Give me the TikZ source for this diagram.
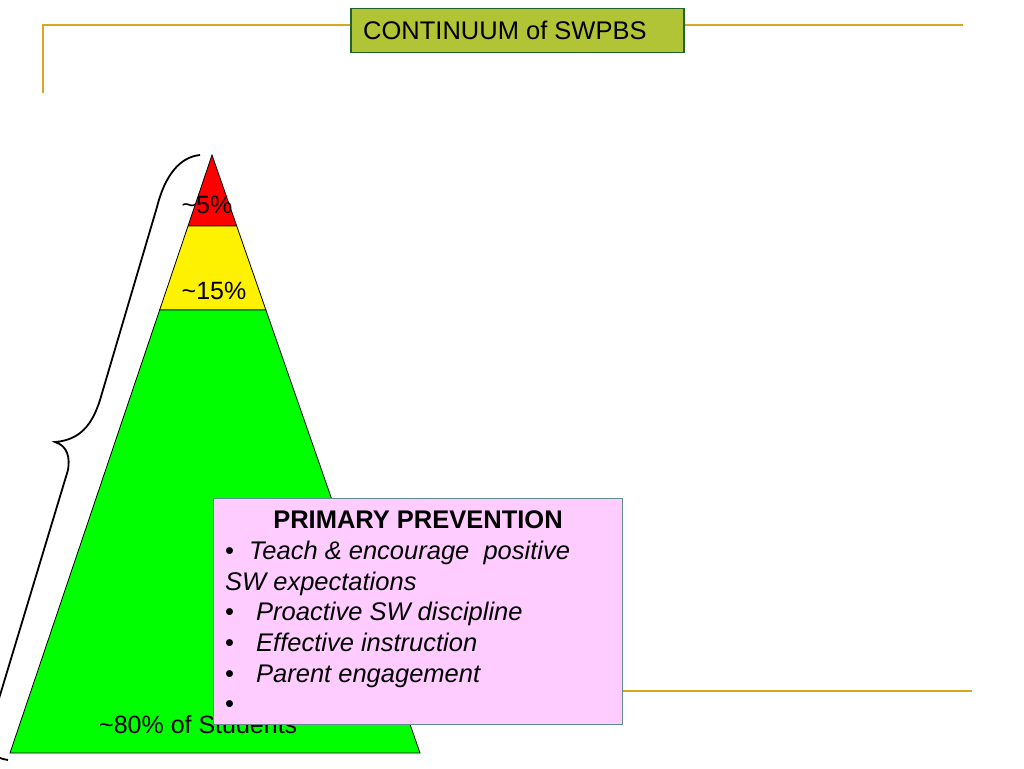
\documentclass[tikz,border=0pt]{standalone}
\usepackage{fontspec}
\setmainfont{Liberation Sans}
\usetikzlibrary{positioning,calc}
\definecolor{gold}{RGB}{218,165,32}
\definecolor{titlefill}{RGB}{176,196,54}
\definecolor{titleline}{RGB}{30,100,40}
\definecolor{boxpink}{RGB}{255,204,255}
\definecolor{boxline}{RGB}{95,140,140}
\begin{document}
\begin{tikzpicture}[x=1pt,y=-1pt,
    rule/.style={draw=gold, line width=2.2pt},
    tier/.style={draw=black, line width=0.8pt},
    lbl/.style={inner sep=0, font=\fontsize{25}{28}\selectfont}]
    \useasboundingbox (0,0) rectangle (1024,768);
    % template rules and title
    \draw[rule] (43,93) -- (43,25) -- (963,25);
    \node [draw=titleline, fill=titlefill, line width=1.5pt, minimum width=333pt, minimum height=44pt, inner sep=0, anchor=north west] (title) at (350,8) {};
    \node [lbl, anchor=west, font=\fontsize{25.5}{28}\selectfont] (titletext) at (363,30) {CONTINUUM of SWPBS};
  
    % pyramid
    \coordinate (apex) at (212,155);
    \coordinate (bl) at (10,753);
    \coordinate (br) at (420,753);
    \coordinate (redl) at ($(apex)!0.1187!(bl)$);
    \coordinate (redr) at ($(apex)!0.1187!(br)$);
    \coordinate (yell) at ($(apex)!0.2592!(bl)$);
    \coordinate (yelr) at ($(apex)!0.2592!(br)$);
    \filldraw[tier, fill=red] (apex) -- (redl) -- (redr) -- cycle;
    \filldraw[tier, fill=yellow] (redl) -- (yell) -- (yelr) -- (redr) -- cycle;
    \filldraw[tier, fill=green] (yell) -- (bl) -- (br) -- (yelr) -- cycle;
    \node [lbl] (tier1) at (207,205) {\textasciitilde5\%};
    \node [lbl] (tier2) at (214,291) {\textasciitilde15\%};
    \node [lbl, anchor=west] (tier3) at (99,725) {\textasciitilde80\% of Students};
  
    % brace
    \draw[line width=1.8pt] (200,155) .. controls (180,157) and (165,175) .. (157,207) -- (100,400)
      .. controls (92,425) and (80,440) .. (55,442) .. controls (68,446) and (70,458) .. (68,470)
      -- (-12,735) .. controls (-16,750) and (-6,758) .. (8,760);
  
    % primary prevention box
    \coordinate (ruleend) at (972,691);
    \node [draw=boxline, fill=boxpink, line width=1pt, minimum width=409pt, minimum height=226pt, inner sep=0, anchor=north west] (prim) at (213,498) {};
    \draw[rule] (prim.east |- ruleend) -- (ruleend);
    \node [lbl, font=\bfseries\fontsize{25.5}{28}\selectfont] (primhead) at (418,520) {PRIMARY PREVENTION};
    \node [anchor=north west, align=left, inner sep=0, font=\itshape\fontsize{25.5}{30.6}\selectfont] (primlist) at (225,541)
      {\makebox[24pt][l]{\upshape\textbullet}Teach \& encourage\ \ positive\\
       SW expectations\\
       \makebox[31pt][l]{\upshape\textbullet}Proactive SW discipline\\
       \makebox[31pt][l]{\upshape\textbullet}Effective instruction\\
       \makebox[31pt][l]{\upshape\textbullet}Parent engagement\\
       \makebox[31pt][l]{\upshape\textbullet}};
\end{tikzpicture}
\end{document}
